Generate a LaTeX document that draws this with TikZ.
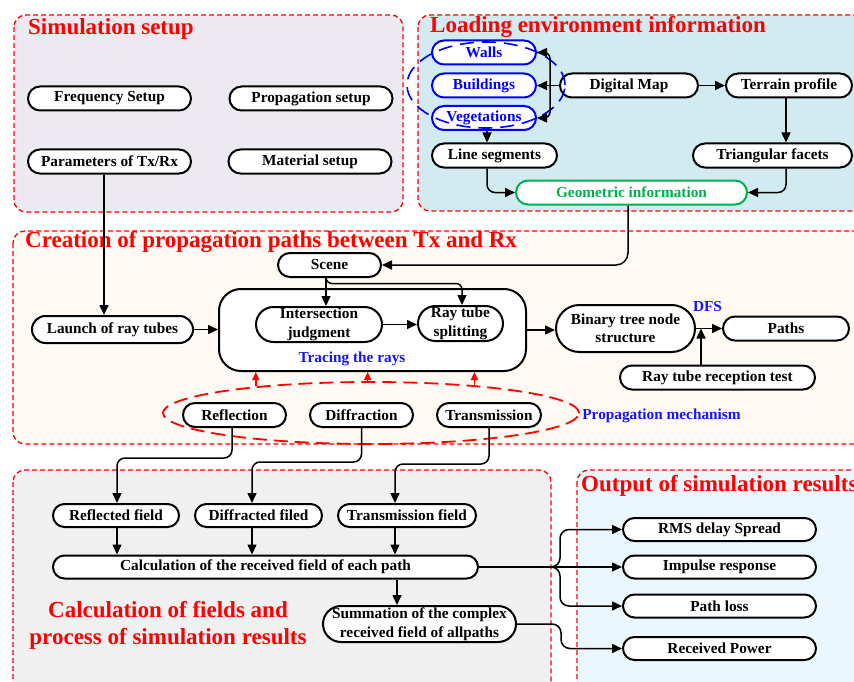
\documentclass[tikz,border=0pt]{standalone}
\usepackage{fontspec}
\setmainfont{Liberation Serif}
\usetikzlibrary{arrows.meta,shapes.geometric}

\definecolor{setupbg}{RGB}{237,233,241}
\definecolor{envbg}{RGB}{210,235,240}
\definecolor{pathbg}{RGB}{254,249,243}
\definecolor{fieldbg}{RGB}{240,240,240}
\definecolor{outbg}{RGB}{234,247,252}
\definecolor{titlered}{RGB}{255,0,0}
\definecolor{labelblue}{RGB}{20,20,255}
\definecolor{geogreen}{RGB}{0,176,80}

\tikzset{
  panel/.style={draw=titlered, line width=1.3pt, dash pattern=on 5pt off 3pt, rounded corners=12pt},
  paneltitle/.style={anchor=base west, text=titlered, font=\fontsize{23}{27}\selectfont\bfseries, inner sep=0pt},
  box/.style={draw=black, line width=2pt, fill=white, rounded corners=12pt, minimum height=24pt,
    inner sep=0pt, align=center, font=\fontsize{15.3}{18.5}\selectfont\bfseries},
  bluebox/.style={box, draw=blue, text=blue},
  greenbox/.style={box, draw=geogreen, text=geogreen},
  note/.style={text=labelblue, font=\fontsize{15.3}{18}\selectfont\bfseries, inner sep=0pt},
  arr/.style={line width=1.5pt, -{Triangle[length=10pt,width=9pt]}},
  plain/.style={line width=1.5pt},
  redarr/.style={draw=titlered, line width=1.6pt, -{Triangle[length=8pt,width=7pt]}},
}

\begin{document}
\begin{tikzpicture}[x=1pt,y=-1pt]
\clip (0,0) rectangle (854,682);

% ---------- panels ----------
\draw[panel, fill=setupbg] (14,15) rectangle (403,212);
\draw[panel, fill=envbg]   (418,15) rectangle (880,211);
\draw[panel, fill=pathbg]  (13,231) rectangle (880,444);
\draw[panel, fill=fieldbg] (13,470) rectangle (551,710);
\draw[panel, fill=outbg]   (577,470) rectangle (880,710);

\node[paneltitle] (t1) at (28,35) {Simulation setup};
\node[paneltitle] (t2) at (430,33) {Loading environment information};
\node[paneltitle] (t3) at (25,247) {Creation of propagation paths between Tx and Rx};
\node[paneltitle] (t5) at (581,491) {Output of simulation results};
\node[paneltitle, anchor=center, align=center] (t4) at (168,625.5)
  {Calculation of fields and\\process of simulation results};

% ---------- simulation setup ----------
\node[box, minimum width=163pt] (freq)     at (109.5,98.5)  {Frequency Setup};
\node[box, minimum width=163pt] (prop)     at (311,98.5)    {Propagation setup};
\node[box, minimum width=163pt] (params)   at (109.5,161.5) {Parameters of Tx/Rx};
\node[box, minimum width=163pt] (material) at (310,161.5)   {Material setup};

% ---------- environment ----------
\node[bluebox, minimum width=104pt] (walls)     at (484,52.5)  {Walls};
\node[bluebox, minimum width=104pt] (buildings) at (484,85.5)  {Buildings};
\node[bluebox, minimum width=104pt] (veg)       at (484,118)   {Vegetations};
\node[box, minimum width=138pt] (dmap)    at (629,85.5)  {Digital Map};
\node[box, minimum width=126pt] (terrain) at (789,85.5)  {Terrain profile};
\node[box, minimum width=125pt] (lineseg) at (494.5,155.5) {Line segments};
\node[box, minimum width=159pt] (tri)     at (772.5,155.5) {Triangular facets};
\node[greenbox, minimum width=231pt] (geo) at (631.5,192.5) {Geometric information};

\node[draw=blue, line width=1.6pt, dash pattern=on 14pt off 8pt, ellipse,
      minimum width=158pt, minimum height=86pt, inner sep=0pt] (envgroup) at (486,85) {};

\coordinate (br) at (550,85.5);
\draw[plain] (dmap.west) -- (br);
\draw[arr, rounded corners=6pt] (br) |- (walls.east);
\draw[arr] (br) -- (buildings.east);
\draw[arr, rounded corners=6pt] (br) |- (veg.east);
\draw[arr] (dmap.east) -- (terrain.west);
\draw[arr] ([xshift=3pt]veg.south) -- ([xshift=3pt]veg.south |- lineseg.north);
\draw[arr] ([xshift=-3pt]terrain.south) -- ([xshift=-3pt]terrain.south |- tri.north);
\draw[arr, rounded corners=8pt] ([xshift=-7.5pt]lineseg.south) |- (geo.west);
\draw[arr, rounded corners=8pt] ([xshift=13.5pt]tri.south) |- (geo.east);

% ---------- propagation paths ----------
\node[box, minimum width=103pt] (scene)  at (329.5,265)   {Scene};
\node[box, minimum width=161pt, minimum height=27pt, rounded corners=13.5pt] (launch) at (112.5,329.5) {Launch of ray tubes};
\node[draw=black, line width=2pt, fill=white, rounded corners=22pt,
      minimum width=307pt, minimum height=82pt] (trace) at (372.5,330) {};
\node[box, minimum width=126pt, minimum height=35pt, rounded corners=17.5pt] (intersect) at (319,324.5) {Intersection\\judgment};
\node[box, minimum width=85pt, minimum height=35pt, rounded corners=17.5pt] (raysplit) at (460.5,323.5) {Ray tube\\splitting};
\node[note] (tracelabel) at (352,359) {Tracing the rays};
\node[box, minimum width=139pt, minimum height=47pt, rounded corners=23.5pt] (binary) at (625.5,328.5) {Binary tree node\\structure};
\node[box, minimum width=126pt] (paths)     at (786,328.5)   {Paths};
\node[box, minimum width=195pt] (reception) at (717.5,377.5) {Ray tube reception test};
\node[note] (dfs) at (707.5,307) {DFS};

\node[draw=titlered, line width=1.8pt, dash pattern=on 14pt off 7pt, ellipse,
      minimum width=416pt, minimum height=62pt, inner sep=0pt] (mech) at (371,413) {};
\node[box, minimum width=103pt] (reflection)   at (234.5,415) {Reflection};
\node[box, minimum width=103pt] (diffraction)  at (361.5,415) {Diffraction};
\node[box, minimum width=104pt] (transmission) at (489,415)   {Transmission};
\node[note] (mechlabel) at (661.5,416) {Propagation mechanism};

\draw[redarr] (mech.167) -- (mech.167 |- trace.south);
\draw[redarr] (mech.96)  -- (mech.96 |- trace.south);
\draw[redarr] (mech.15)  -- (mech.15 |- trace.south);

\draw[arr, rounded corners=12pt] ([xshift=-3.5pt]geo.south) |- (scene.east);
\draw[arr] ([xshift=-5.5pt]params.south) -- ([xshift=-5.5pt]params.south |- launch.north);
\draw[arr] ([xshift=-3.5pt]scene.south) -- ([xshift=-3.5pt]scene.south |- intersect.north);
\coordinate (sbr) at (462,283.5);
\draw[arr, rounded corners=6pt] ([xshift=-3.5pt]scene.south) |- (sbr) -- (sbr |- raysplit.north);
\draw[arr] (launch.east) -- (launch.east -| trace.west);
\draw[arr] (intersect.east) -- (intersect.east -| raysplit.west);
\draw[arr] (trace.east) -- (trace.east -| binary.west);
\draw[arr] (binary.east) -- (paths.west);
\draw[arr] ([xshift=-16.5pt]reception.north) -- ([xshift=-16.5pt]reception.north |- paths.west);

% ---------- fields ----------
\node[box, minimum width=126pt, minimum height=23pt, rounded corners=11.5pt] (reflected)  at (116,515.5)   {Reflected field};
\node[box, minimum width=127pt, minimum height=23pt, rounded corners=11.5pt] (diffracted) at (258.5,515.5) {Diffracted filed};
\node[box, minimum width=138pt, minimum height=23pt, rounded corners=11.5pt] (transfield) at (407,515.5)   {Transmission field};
\node[box, minimum width=425pt, minimum height=23pt, rounded corners=11.5pt] (calc) at (265.5,567) {Calculation of the received field of each path};
\node[box, minimum width=193pt, minimum height=36pt, rounded corners=18pt] (summation) at (419.5,624) {Summation of the complex\\received field of allpaths};

\draw[arr, rounded corners=8pt] ([xshift=-2.5pt]reflection.south) -- ++(0,30) -| ([xshift=1pt]reflected.north);
\draw[arr, rounded corners=8pt] (diffraction.south) -- ++(0,34) -| ([xshift=-6.5pt]diffracted.north);
\draw[arr, rounded corners=8pt] (transmission.south) -- ++(0,36) -| ([xshift=-12pt]transfield.north);
\draw[arr] ([xshift=1pt]reflected.south) -- ([xshift=1pt]reflected.south |- calc.north);
\draw[arr] ([xshift=-6.5pt]diffracted.south) -- ([xshift=-6.5pt]diffracted.south |- calc.north);
\draw[arr] ([xshift=-12pt]transfield.south) -- ([xshift=-12pt]transfield.south |- calc.north);
\draw[arr] ([xshift=-22.5pt]summation.north |- calc.south) -- ([xshift=-22.5pt]summation.north);

% ---------- outputs ----------
\node[box, minimum width=193pt, minimum height=23pt, rounded corners=11.5pt] (rms)      at (719.5,529.5) {RMS delay Spread};
\node[box, minimum width=193pt, minimum height=23pt, rounded corners=11.5pt] (impulse)  at (719.5,567)   {Impulse response};
\node[box, minimum width=193pt, minimum height=23pt, rounded corners=11.5pt] (pathloss) at (719.5,606)   {Path loss};
\node[box, minimum width=193pt, minimum height=23pt, rounded corners=11.5pt] (recpower) at (719.5,648.5) {Received Power};

\coordinate (split) at (550,567);
\coordinate (bx) at (560,567);
\coordinate (bx2) at (561,624);
\draw[arr] (calc.east) -- (calc.east -| impulse.west);
\draw[arr, rounded corners=9pt] (split) -| (bx |- rms.west) -- (rms.west);
\draw[arr, rounded corners=9pt] (split) -| (bx |- pathloss.west) -- (pathloss.west);
\draw[arr, rounded corners=9pt] (summation.east) -| (bx2 |- recpower.west) -- (recpower.west);
\end{tikzpicture}
\end{document}
